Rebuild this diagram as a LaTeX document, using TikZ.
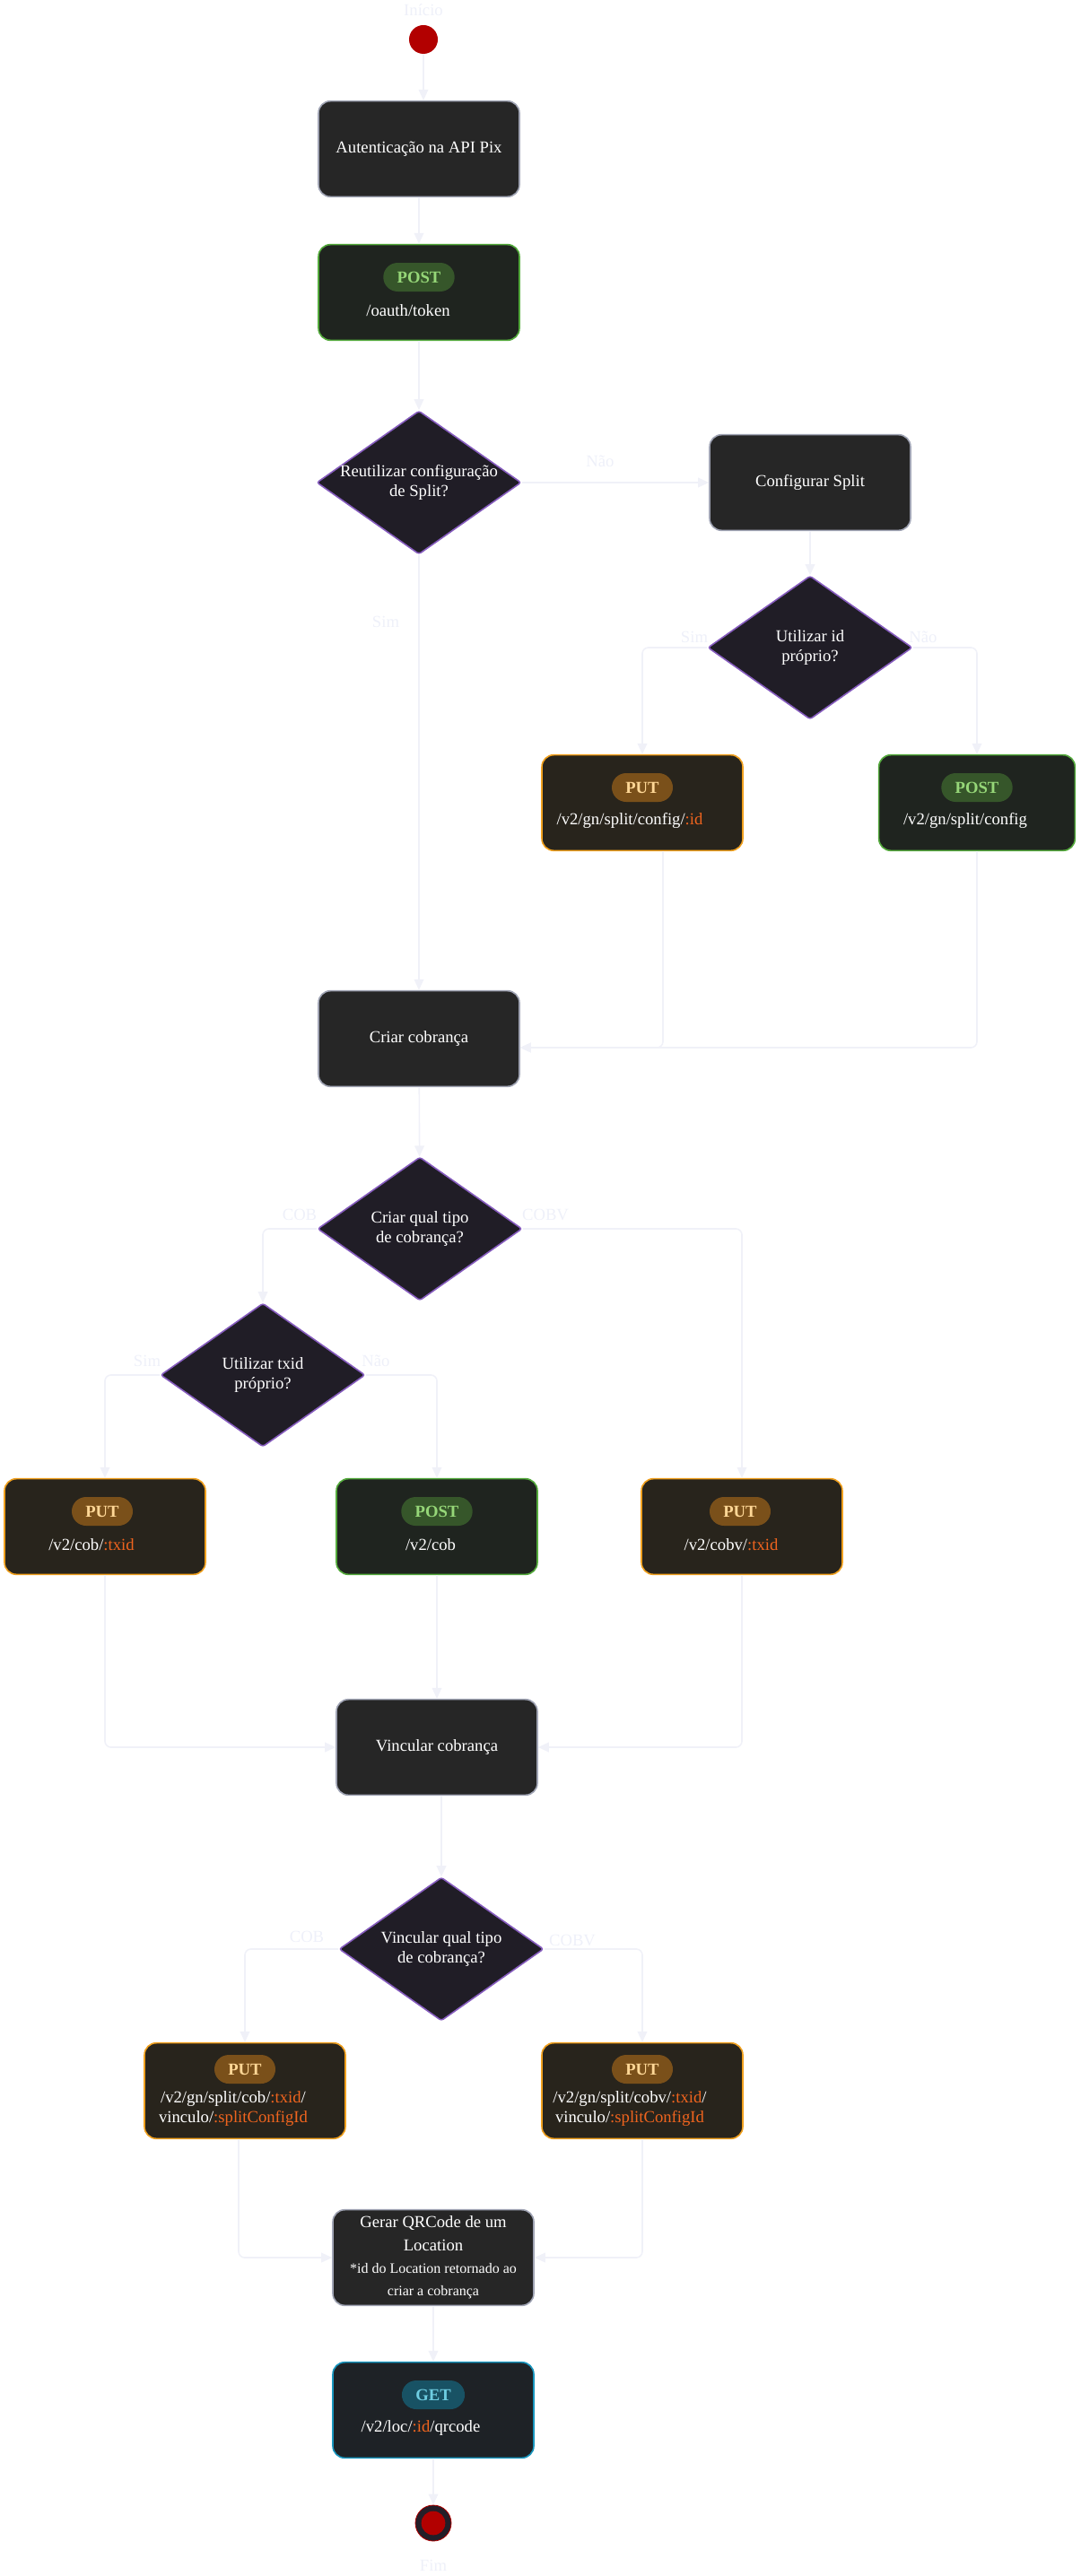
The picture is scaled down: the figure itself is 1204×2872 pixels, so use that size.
\documentclass[tikz,border=0pt]{standalone}
\usepackage{fontspec}
\setmainfont{Liberation Serif}
\usetikzlibrary{shapes.geometric,arrows.meta,calc}

\definecolor{stepfill}{RGB}{38,38,38}
\definecolor{stepedge}{RGB}{160,164,180}
\definecolor{decfill}{RGB}{32,29,38}
\definecolor{decedge}{RGB}{134,92,190}
\definecolor{postfill}{RGB}{31,36,31}
\definecolor{postedge}{RGB}{84,170,60}
\definecolor{postbadgebg}{RGB}{54,86,42}
\definecolor{postverbtext}{RGB}{150,215,120}
\definecolor{putfill}{RGB}{40,36,28}
\definecolor{putedge}{RGB}{240,160,30}
\definecolor{putbadgebg}{RGB}{122,80,26}
\definecolor{putverbtext}{RGB}{255,215,150}
\definecolor{getfill}{RGB}{30,34,38}
\definecolor{getedge}{RGB}{24,150,190}
\definecolor{getbadgebg}{RGB}{24,82,100}
\definecolor{getverbtext}{RGB}{110,205,225}
\definecolor{paramorange}{RGB}{240,100,30}
\definecolor{flowgray}{RGB}{240,241,248}
\definecolor{lblgray}{RGB}{238,240,249}
\definecolor{startred}{RGB}{178,0,0}
\definecolor{endring}{RGB}{36,30,40}

\newcommand{\param}[1]{\textcolor{paramorange}{#1}}

\begin{document}
\begin{tikzpicture}[x=0.75pt,y=-0.75pt,
  >={Triangle[length=9pt,width=8pt]},
  every node/.style={font=\fontsize{14}{16.5}\selectfont},
  flow/.style={->,draw=flowgray,line width=1.2pt,rounded corners=5pt},
  lbl/.style={text=lblgray},
  stepbox/.style={draw=stepedge,fill=stepfill,line width=1.2pt,rounded corners=10pt,
    minimum width=168pt,minimum height=80pt,text=white,align=center},
  decision/.style={diamond,draw=decedge,fill=decfill,line width=1.2pt,rounded corners=2pt,
    minimum width=171pt,minimum height=120pt,inner sep=0pt},
  dectext/.style={text=white,align=center},
  putbox/.style={stepbox,draw=putedge,fill=putfill},
  postbox/.style={stepbox,draw=postedge,fill=postfill},
  getbox/.style={stepbox,draw=getedge,fill=getfill},
  verb/.style={rounded corners=12pt,minimum height=24pt,inner xsep=11.5pt,inner ysep=0pt,
    font=\bfseries\fontsize{14}{16}\selectfont},
  putverb/.style={verb,fill=putbadgebg,text=putverbtext},
  postverb/.style={verb,fill=postbadgebg,text=postverbtext},
  getverb/.style={verb,fill=getbadgebg,text=getverbtext},
  route/.style={text=white,align=center}]
\useasboundingbox (0,0) rectangle (1204,2872);

% start and authentication
\node[lbl] (inicio) at (472,11) {Início};
\node[circle,fill=startred,minimum size=24pt,inner sep=0pt] (start) at (472,44) {};
\node[stepbox] (auth) at (467,166) {Autenticação na API Pix};
\node[postbox] (token) at (467,326) {};
\node[postverb] (tokenverb) at ($(token)+(0,-17)$) {POST};
\node[route] (tokenroute) at ($(token)+(-12,20)$) {/oauth/token};

% split configuration
\node[decision,label={[dectext]center:Reutilizar configuração\\de Split?}] (reuse) at (467,538) {};
\node[stepbox] (cfgsplit) at (903,538) {Configurar Split};
\node[decision,label={[dectext]center:Utilizar id\\próprio?}] (ownid) at (903,722) {};
\node[putbox] (putcfg) at (716,895) {};
\node[putverb] (putcfgverb) at ($(putcfg)+(0,-17)$) {PUT};
\node[route] (putcfgroute) at ($(putcfg)+(-14,20)$) {/v2/gn/split/config/\param{:id}};
\node[postbox,minimum width=164pt] (postcfg) at (1089,895) {};
\node[postverb] (postcfgverb) at ($(postcfg)+(0,-17)$) {POST};
\node[route] (postcfgroute) at ($(postcfg)+(-13,20)$) {/v2/gn/split/config};

% charge creation
\node[stepbox] (criar) at (467,1158) {Criar cobrança};
\node[decision,label={[dectext]center:Criar qual tipo\\de cobrança?}] (tipo) at (468,1370) {};
\node[decision,label={[dectext]center:Utilizar txid\\próprio?}] (txid) at (293,1533) {};
\node[putbox] (putcob) at (117,1702) {};
\node[putverb] (putcobverb) at ($(putcob)+(-3,-17)$) {PUT};
\node[route] (putcobroute) at ($(putcob)+(-15,20)$) {/v2/cob/\param{:txid}};
\node[postbox] (postcob) at (487,1702) {};
\node[postverb] (postcobverb) at ($(postcob)+(0,-17)$) {POST};
\node[route] (postcobroute) at ($(postcob)+(-7,20)$) {/v2/cob};
\node[putbox] (putcobv) at (827,1702) {};
\node[putverb] (putcobvverb) at ($(putcobv)+(-2,-17)$) {PUT};
\node[route] (putcobvroute) at ($(putcobv)+(-12,20)$) {/v2/cobv/\param{:txid}};

% link to split
\node[stepbox] (vincular) at (487,1948) {Vincular cobrança};
\node[decision,label={[dectext]center:Vincular qual tipo\\de cobrança?}] (vinctipo) at (492,2173) {};
\node[putbox] (putscob) at (273,2331) {};
\node[putverb] (putscobverb) at ($(putscob)+(0,-24)$) {PUT};
\node[route] (putscobroute) at ($(putscob)+(-13,20.5)$) {/v2/gn/split/cob/\param{:txid}/\\vinculo/\param{:splitConfigId}};
\node[putbox] (putscobv) at (716,2331) {};
\node[putverb] (putscobvverb) at ($(putscobv)+(0,-24)$) {PUT};
\node[route] (putscobvroute) at ($(putscobv)+(-14,20.5)$) {/v2/gn/split/cobv/\param{:txid}/\\vinculo/\param{:splitConfigId}};

% qrcode and end
\node[stepbox,inner sep=2pt,font=\fontsize{14}{19}\selectfont] (qrcode) at (483,2517)
  {Gerar QRCode de um\\Location\\{\fontsize{12}{19}\selectfont *id do Location retornado ao}\\{\fontsize{12}{19}\selectfont criar a cobrança}};
\node[getbox] (get) at (483,2687) {};
\node[getverb] (getverbnode) at ($(get)+(0,-17)$) {GET};
\node[route] (getroute) at ($(get)+(-14,20)$) {/v2/loc/\param{:id}/qrcode};
\node[circle,fill=endring,draw=startred,line width=0.6pt,minimum size=30pt,inner sep=0pt] (fim) at (483,2813) {};
\node[circle,fill=startred,minimum size=20pt,inner sep=0pt] (fimdot) at (fim) {};
\node[lbl] (fimlbl) at (483,2860) {Fim};

% connectors
\draw[flow] (start) -- (start |- auth.north);
\draw[flow] (auth) -- (token);
\draw[flow] (token) -- (reuse);
\draw[flow] (reuse.east) -- (cfgsplit.west);
\draw[flow] (reuse.south) -- (criar.north);
\draw[flow] (cfgsplit.south) -- (ownid.north);
\draw[flow] (ownid.west) -| (putcfg.north);
\draw[flow] (ownid.east) -| (postcfg.north);
\draw[flow] ($(putcfg.south)+(23,0)$) |- ($(criar.east)+(0,10)$);
\draw[flow] (postcfg.south) |- ($(criar.east)+(0,10)$);
\draw[flow] (criar) -- (tipo);
\draw[flow] (tipo.west) -| (txid.north);
\draw[flow] (tipo.east) -| (putcobv.north);
\draw[flow] (txid.west) -| (putcob.north);
\draw[flow] (txid.east) -| (postcob.north);
\draw[flow] (putcob.south) |- (vincular.west);
\draw[flow] (postcob) -- (vincular);
\draw[flow] (putcobv.south) |- (vincular.east);
\draw[flow] (vincular.south -| vinctipo.north) -- (vinctipo.north);
\draw[flow] (vinctipo.west) -| (putscob.north);
\draw[flow] (vinctipo.east) -| (putscobv.north);
\draw[flow] ($(putscob.south)+(-7,0)$) |- (qrcode.west);
\draw[flow] (putscobv.south) |- (qrcode.east);
\draw[flow] (qrcode) -- (get);
\draw[flow] (get) -- (fim);

% edge labels
\node[lbl] (nao1) at (669,514) {Não};
\node[lbl] (sim1) at (430,693) {Sim};
\node[lbl] (sim2) at (774,710) {Sim};
\node[lbl] (nao2) at (1029,710) {Não};
\node[lbl] (cob1) at (334,1354) {COB};
\node[lbl] (cobv1) at (608,1354) {COBV};
\node[lbl] (sim3) at (164,1517) {Sim};
\node[lbl] (nao3) at (419,1517) {Não};
\node[lbl] (cob2) at (342,2159) {COB};
\node[lbl] (cobv2) at (638,2163) {COBV};
\end{tikzpicture}
\end{document}
